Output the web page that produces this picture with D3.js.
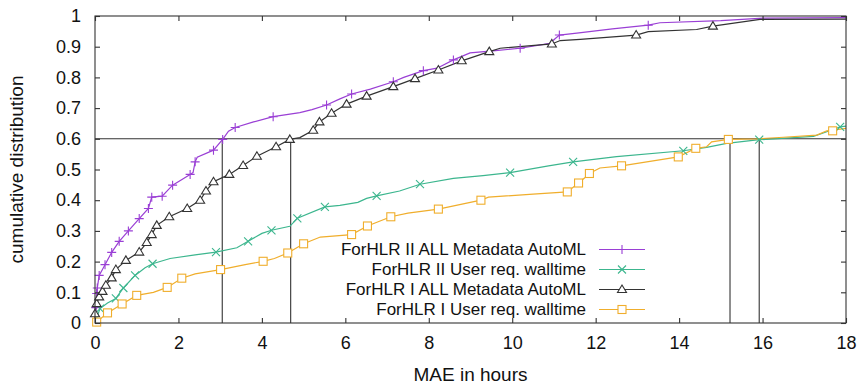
<!DOCTYPE html>

<head>
  <meta charset="utf-8">
  <script src="https://d3js.org/d3.v7.min.js"></script>

  <style>
    body {
      margin: 0;
      background: #fff;
    }

    svg {
      display: block;
      font-family: "Liberation Sans", Arial, sans-serif;
    }
  </style>
</head>

<body>
  <svg width="861" height="386"></svg>
  <script>
    var width = 861;
    var height = 386;
    var margin = { top: 16, bottom: 63, left: 95, right: 15 };

    // tick values
    var xTicks = [0, 2, 4, 6, 8, 10, 12, 14, 16, 18];
    var yTicks = [0, 0.1, 0.2, 0.3, 0.4, 0.5, 0.6, 0.7, 0.8, 0.9, 1];

    var seriesNames = [
      "ForHLR II ALL Metadata AutoML",
      "ForHLR II User req. walltime",
      "ForHLR I ALL Metadata AutoML",
      "ForHLR I User req. walltime"
    ];

    // ForHLR II ALL Metadata AutoML
    var f2AutoLine = [[0, 0], [0.02, 0.05], [0.04, 0.096], [0.055, 0.114], [0.1, 0.155], [0.24, 0.19], [0.4, 0.23], [0.58, 0.266],
      [0.8, 0.3], [1.06, 0.34], [1.28, 0.373], [1.36, 0.41], [1.61, 0.413], [1.86, 0.449], [2.28, 0.484], [2.35, 0.49],
      [2.4, 0.525], [2.45, 0.54], [2.84, 0.563], [3.06, 0.598], [3.2, 0.625], [3.36, 0.637], [3.8, 0.655], [4.27, 0.672],
      [4.91, 0.685], [5.2, 0.695], [5.55, 0.71], [5.87, 0.73], [6.15, 0.746], [6.6, 0.762], [7.15, 0.786], [7.4, 0.8],
      [7.87, 0.822], [8.2, 0.83], [8.59, 0.857], [8.99, 0.88], [9.6, 0.887], [10.19, 0.895], [10.9, 0.911], [11.13, 0.938],
      [11.6, 0.945], [12.4, 0.958], [13.26, 0.97], [13.54, 0.978], [15.0, 0.985], [16.02, 0.993], [18, 0.995]];
    var f2AutoMarks = [[0.02, 0.05], [0.04, 0.096], [0.055, 0.114], [0.1, 0.155], [0.24, 0.19], [0.4, 0.23], [0.58, 0.266],
      [0.8, 0.3], [1.06, 0.34], [1.28, 0.373], [1.36, 0.41], [1.61, 0.413], [1.86, 0.449], [2.28, 0.484], [2.4, 0.525],
      [2.84, 0.563], [3.06, 0.598], [3.36, 0.637], [4.27, 0.672], [5.55, 0.71], [6.15, 0.746], [7.15, 0.786], [7.87, 0.822],
      [8.59, 0.857], [10.19, 0.895], [11.13, 0.938], [13.26, 0.97]];

    // ForHLR II User req. walltime
    var f2UserLine = [[0, 0], [0.05, 0.02], [0.12, 0.047], [0.3, 0.065], [0.5, 0.08], [0.68, 0.114], [0.96, 0.155], [1.2, 0.18],
      [1.38, 0.193], [1.8, 0.21], [2.4, 0.222], [2.9, 0.231], [3.4, 0.245], [3.67, 0.266], [4.0, 0.292], [4.23, 0.302],
      [4.67, 0.315], [4.85, 0.341], [5.51, 0.378], [5.87, 0.383], [6.3, 0.393], [6.51, 0.406], [6.75, 0.414], [7.3, 0.43],
      [7.79, 0.452], [8.59, 0.471], [9.3, 0.48], [9.95, 0.49], [10.87, 0.512], [11.46, 0.525], [12.5, 0.542], [14.1, 0.561],
      [14.66, 0.572], [15.14, 0.585], [15.92, 0.597], [17.22, 0.608], [17.54, 0.623], [17.86, 0.639], [18, 0.641]];
    var f2UserMarks = [[0.12, 0.047], [0.5, 0.08], [0.68, 0.114], [0.96, 0.155], [1.38, 0.193], [2.9, 0.231], [3.67, 0.266],
      [4.23, 0.302], [4.85, 0.341], [5.51, 0.378], [6.75, 0.414], [7.79, 0.452], [9.95, 0.49], [11.46, 0.525], [14.1, 0.561],
      [15.92, 0.597], [17.86, 0.639]];

    // ForHLR I ALL Metadata AutoML
    var f1AutoLine = [[0, 0], [0, 0.03], [0.04, 0.063], [0.1, 0.085], [0.18, 0.103], [0.26, 0.123], [0.4, 0.147], [0.5, 0.174],
      [0.74, 0.204], [1.06, 0.231], [1.24, 0.262], [1.36, 0.288], [1.48, 0.318], [1.78, 0.346], [2.21, 0.373], [2.52, 0.4],
      [2.66, 0.43], [2.84, 0.46], [3.22, 0.484], [3.55, 0.513], [3.88, 0.543], [4.34, 0.574], [4.67, 0.598], [4.91, 0.604],
      [5.23, 0.628], [5.38, 0.655], [5.67, 0.683], [6.03, 0.713], [6.51, 0.739], [7.15, 0.77], [7.67, 0.796], [8.23, 0.824],
      [8.79, 0.854], [9.45, 0.884], [9.71, 0.895], [10.95, 0.909], [11.15, 0.92], [11.63, 0.924], [12.97, 0.938],
      [13.26, 0.949], [14.42, 0.956], [14.81, 0.967], [15.94, 0.989], [18, 0.99]];
    var f1AutoMarks = [[0, 0.03], [0.04, 0.063], [0.1, 0.085], [0.18, 0.103], [0.26, 0.123], [0.4, 0.147], [0.5, 0.174],
      [0.74, 0.204], [1.06, 0.231], [1.24, 0.262], [1.36, 0.288], [1.48, 0.318], [1.78, 0.346], [2.21, 0.373], [2.52, 0.4],
      [2.66, 0.43], [2.84, 0.46], [3.22, 0.484], [3.55, 0.513], [3.88, 0.543], [4.34, 0.574], [4.67, 0.598], [5.23, 0.628],
      [5.38, 0.655], [5.67, 0.683], [6.03, 0.713], [6.51, 0.739], [7.15, 0.77], [7.67, 0.796], [8.23, 0.824], [8.79, 0.854],
      [9.45, 0.884], [10.95, 0.909], [12.97, 0.938], [14.81, 0.967]];

    // ForHLR I User req. walltime
    var f1UserLine = [[0, 0], [0.04, 0.003], [0.3, 0.033], [0.65, 0.062], [1.0, 0.09], [1.4, 0.1], [1.73, 0.116], [2.08, 0.146],
      [2.4, 0.16], [3.01, 0.174], [3.6, 0.19], [4.03, 0.201], [4.3, 0.21], [4.62, 0.228], [5.0, 0.258], [5.4, 0.28],
      [6.15, 0.288], [6.53, 0.316], [7.09, 0.346], [7.5, 0.358], [8.23, 0.371], [9.25, 0.4], [9.43, 0.41], [10.5, 0.42],
      [11.32, 0.427], [11.59, 0.456], [11.74, 0.473], [11.85, 0.487], [12.1, 0.505], [12.62, 0.512], [13.98, 0.541],
      [14.4, 0.569], [14.66, 0.574], [14.78, 0.59], [15.18, 0.598], [15.86, 0.6], [16.5, 0.605], [17.3, 0.612],
      [17.54, 0.626], [18, 0.634]];
    var f1UserMarks = [[0.04, 0.003], [0.3, 0.033], [0.65, 0.062], [1.0, 0.09], [1.73, 0.116], [2.08, 0.146], [3.01, 0.174],
      [4.03, 0.201], [4.62, 0.228], [5.0, 0.258], [6.15, 0.288], [6.53, 0.316], [7.09, 0.346], [8.23, 0.371], [9.25, 0.4],
      [11.32, 0.427], [11.59, 0.456], [11.85, 0.487], [12.62, 0.512], [13.98, 0.541], [14.4, 0.569], [15.18, 0.598],
      [17.68, 0.626]];

    // 60% reference lines
    var refLevel = 0.6;
    var refCrossings = [3.05, 4.69, 15.22, 15.92];

    var colors = ["#9a3fd5", "#3cb68e", "#333333", "#f0ae2c"];
    var symbols = ["plus", "cross", "triangle", "square"];

    var series = [
      { name: seriesNames[0], line: f2AutoLine, marks: f2AutoMarks, color: colors[0], sym: symbols[0] },
      { name: seriesNames[1], line: f2UserLine, marks: f2UserMarks, color: colors[1], sym: symbols[1] },
      { name: seriesNames[2], line: f1AutoLine, marks: f1AutoMarks, color: colors[2], sym: symbols[2] },
      { name: seriesNames[3], line: f1UserLine, marks: f1UserMarks, color: colors[3], sym: symbols[3] }
    ];

    var xScale = d3.scaleLinear()
      .domain([0, 18])
      .range([margin.left, width - margin.right]);

    var yScale = d3.scaleLinear()
      .domain([0, 1])
      .range([height - margin.bottom, margin.top]);

    var svg = d3.select('svg');
    var axisColor = '#333';

    // draws a gnuplot-ish point symbol
    function drawSymbol(g, sym, color) {
      if (sym == 'plus') {
        g.append('path').attr('d', 'M-4.5,0H4.5M0,-4.5V4.5');
      } else if (sym == 'cross') {
        g.append('path').attr('d', 'M-4,-4L4,4M-4,4L4,-4');
      } else if (sym == 'triangle') {
        g.append('path').attr('d', 'M0,-4.5L4.5,3L-4.5,3Z').attr('fill', '#fff');
      } else {
        g.append('rect').attr('x', -4).attr('y', -4).attr('width', 8).attr('height', 8).attr('fill', '#fff');
      }
      g.selectAll('path, rect')
        .attr('stroke', color)
        .attr('stroke-width', 1.1)
        .filter(function () { return !this.getAttribute('fill'); })
        .attr('fill', 'none');
    }

    // reference lines
    svg.append('line')
      .attr('x1', xScale(0)).attr('x2', xScale(18))
      .attr('y1', yScale(refLevel)).attr('y2', yScale(refLevel))
      .attr('stroke', axisColor).attr('stroke-width', 1.1);

    svg.selectAll('.ref')
      .data(refCrossings)
      .enter().append('line')
      .attr('class', 'ref')
      .attr('x1', d => xScale(d)).attr('x2', d => xScale(d))
      .attr('y1', yScale(0)).attr('y2', yScale(refLevel))
      .attr('stroke', axisColor).attr('stroke-width', 1.1);

    // lines
    var line = d3.line()
      .x(d => xScale(d[0]))
      .y(d => yScale(d[1]));

    series.forEach(function (s) {
      svg.append('path')
        .datum(s.line)
        .attr('d', line)
        .attr('fill', 'none')
        .attr('stroke', s.color)
        .attr('stroke-width', 1.2);
    });

    series.forEach(function (s) {
      svg.selectAll(null)
        .data(s.marks)
        .enter().append('g')
        .attr('transform', d => 'translate(' + [xScale(d[0]), yScale(d[1])] + ')')
        .each(function () { drawSymbol(d3.select(this), s.sym, s.color); });
    });

    // frame and axes with inward ticks
    var xAxis = d3.axisBottom(xScale).tickValues(xTicks).tickSize(-5).tickPadding(13).tickFormat(d3.format('d'));
    var xTop = d3.axisTop(xScale).tickValues(xTicks).tickSize(-5).tickFormat('');
    var yAxis = d3.axisLeft(yScale).tickValues(yTicks).tickSize(-5).tickPadding(14).tickFormat(d => d == 0 || d == 1 ? d : d3.format('.1f')(d));
    var yRight = d3.axisRight(yScale).tickValues(yTicks).tickSize(-5).tickFormat('');

    var axes = [
      svg.append('g').attr('transform', 'translate(' + [0, height - margin.bottom] + ')').call(xAxis),
      svg.append('g').attr('transform', 'translate(' + [0, margin.top] + ')').call(xTop),
      svg.append('g').attr('transform', 'translate(' + [margin.left, 0] + ')').call(yAxis),
      svg.append('g').attr('transform', 'translate(' + [width - margin.right, 0] + ')').call(yRight)
    ];
    axes.forEach(function (a) {
      a.select('.domain').remove();
      a.selectAll('line').attr('stroke', axisColor).attr('stroke-width', 1.1);
      a.selectAll('text').attr('fill', '#111').style('font-size', '18px').style('font-family', '"Liberation Sans", Arial, sans-serif');
    });

    svg.append('rect')
      .attr('x', xScale(0)).attr('y', yScale(1))
      .attr('width', xScale(18) - xScale(0)).attr('height', yScale(0) - yScale(1))
      .attr('fill', 'none').attr('stroke', axisColor).attr('stroke-width', 1.1);

    // axis titles
    svg.append('text')
      .attr('x', (xScale(0) + xScale(18)) / 2)
      .attr('y', 381)
      .attr('text-anchor', 'middle')
      .style('font-size', '19px')
      .attr('fill', '#111')
      .text('MAE in hours');

    svg.append('text')
      .attr('transform', 'translate(23,' + ((yScale(0) + yScale(1)) / 2) + ') rotate(-90)')
      .attr('text-anchor', 'middle')
      .style('font-size', '19px')
      .attr('fill', '#111')
      .text('cumulative distribution');

    // legend
    var legend = svg.selectAll('.legend')
      .data(series)
      .enter().append('g')
      .attr('class', 'legend')
      .attr('transform', (d, i) => 'translate(' + [586, 249.5 + i * 20] + ')');

    legend.append('text')
      .attr('text-anchor', 'end')
      .attr('dy', '0.35em')
      .style('font-size', '17px')
      .attr('fill', '#111')
      .text(d => d.name);

    legend.append('line')
      .attr('x1', 13).attr('x2', 59)
      .attr('stroke', d => d.color)
      .attr('stroke-width', 1.2);

    legend.append('g')
      .attr('transform', 'translate(36,0)')
      .each(function (d) { drawSymbol(d3.select(this), d.sym, d.color); });
  </script>
</body>
